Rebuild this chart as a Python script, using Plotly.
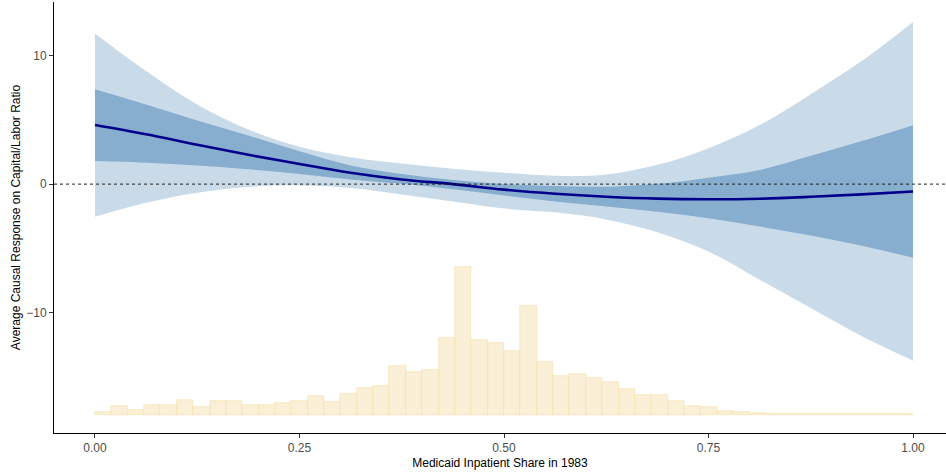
import plotly.graph_objects as go

# ---- data ----
x_grid = [0.0, 0.0625, 0.125, 0.1875, 0.25, 0.3125, 0.375, 0.4375, 0.5,
          0.5625, 0.625, 0.6875, 0.75, 0.8125, 0.875, 0.9375, 1.0]
effect = [4.6, 3.88, 3.06, 2.28, 1.57, 0.88, 0.36, 0.0, -0.43,
          -0.75, -0.98, -1.13, -1.18, -1.14, -0.99, -0.80, -0.57]
inner_upper = [7.39, 6.2, 4.95, 3.78, 2.55, 1.45, 0.78, 0.32, 0.0,
               -0.15, -0.2, 0.02, 0.5, 1.1, 2.2, 3.35, 4.59]
inner_lower = [1.79, 1.67, 1.44, 1.15, 0.78, 0.36, 0.02, -0.4, -0.88,
               -1.35, -1.75, -2.15, -2.65, -3.3, -4.0, -4.8, -5.73]
outer_upper = [11.73, 8.8, 6.2, 4.25, 2.9, 2.1, 1.6, 1.2, 0.88,
               0.65, 0.75, 1.5, 2.8, 4.6, 7.0, 9.6, 12.63]
outer_lower = [-2.54, -1.45, -0.67, -0.22, -0.1, -0.3, -0.8, -1.35, -1.9,
               -2.2, -2.75, -3.75, -5.25, -7.45, -9.65, -11.85, -13.75]

# histogram of the treatment (bins of width 0.02 from 0 to 1), heights in response units
bin_width = 0.02
hist_base = -17.95
hist_heights = [0.19, 0.68, 0.37, 0.75, 0.75, 1.14, 0.60, 1.07, 1.07, 0.75,
                0.75, 0.91, 1.07, 1.46, 0.99, 1.61, 2.08, 2.23, 3.79, 3.32,
                3.48, 5.97, 11.49, 5.81, 5.58, 4.96, 8.46, 4.10, 3.01, 3.17,
                2.86, 2.54, 2.00, 1.53, 1.53, 1.07, 0.68, 0.60, 0.29, 0.21,
                0.13, 0.06, 0.06, 0.06, 0.06, 0.06, 0.06, 0.06, 0.06, 0.06]

x_ticks = [0.0, 0.25, 0.5, 0.75, 1.0]
x_tick_labels = ["0.00", "0.25", "0.50", "0.75", "1.00"]
y_ticks = [-10, 0, 10]
y_tick_labels = ["\u221210", "0", "10"]

bin_centers = [bin_width * (i + 0.5) for i in range(len(hist_heights))]

OUTER = "#C9DBE9"
INNER = "#87ADCF"
LINE = "#00008B"

fig = go.Figure()

# outer band
fig.add_trace(go.Scatter(x=x_grid, y=outer_upper, mode="lines",
                         line=dict(width=0, shape="spline", smoothing=1),
                         hoverinfo="skip", showlegend=False))
fig.add_trace(go.Scatter(x=x_grid, y=outer_lower, mode="lines",
                         line=dict(width=0, shape="spline", smoothing=1),
                         fill="tonexty", fillcolor=OUTER, hoverinfo="skip", showlegend=False))
# inner band
fig.add_trace(go.Scatter(x=x_grid, y=inner_upper, mode="lines",
                         line=dict(width=0, shape="spline", smoothing=1),
                         hoverinfo="skip", showlegend=False))
fig.add_trace(go.Scatter(x=x_grid, y=inner_lower, mode="lines",
                         line=dict(width=0, shape="spline", smoothing=1),
                         fill="tonexty", fillcolor=INNER, hoverinfo="skip", showlegend=False))

# histogram
fig.add_trace(go.Bar(x=bin_centers, y=hist_heights, base=hist_base, width=bin_width,
                     marker=dict(color="#FAF0D8", line=dict(color="#F7DFA6", width=0.6)),
                     showlegend=False))

# zero reference line
fig.add_shape(type="line", xref="paper", x0=0, x1=1, yref="y", y0=0, y1=0,
              line=dict(color="#222222", width=1, dash="dot"), layer="above")

# effect curve
fig.add_trace(go.Scatter(x=x_grid, y=effect, mode="lines",
                         line=dict(color=LINE, width=2.6, shape="spline", smoothing=1),
                         showlegend=False))

font_family = "Liberation Sans, Arial, Helvetica, sans-serif"

fig.update_layout(
    width=946, height=474,
    margin=dict(l=54, r=0, t=2, b=41),
    paper_bgcolor="white", plot_bgcolor="white",
    font=dict(family=font_family, size=12, color="black"),
    bargap=0,
    xaxis=dict(range=[-0.0501, 1.0403], tickvals=x_ticks, ticktext=x_tick_labels,
               automargin=False,
               showgrid=False, zeroline=False, showline=True, linecolor="black", linewidth=1,
               ticks="outside", ticklen=4, tickcolor="#333333", tickwidth=1,
               tickfont=dict(size=12, color="#4D4D4D", family=font_family),
               title=dict(text="Medicaid Inpatient Share in 1983", standoff=4,
                          font=dict(size=12, color="black", family=font_family))),
    yaxis=dict(range=[-19.38, 14.18], tickvals=y_ticks, ticktext=y_tick_labels,
               automargin=False,
               showgrid=False, zeroline=False, showline=True, linecolor="black", linewidth=1,
               ticks="outside", ticklen=4, tickcolor="#333333", tickwidth=1,
               tickfont=dict(size=12, color="#4D4D4D", family=font_family),
               title=dict(text="Average Causal Response on Capital/Labor Ratio", standoff=3,
                          font=dict(size=12, color="black", family=font_family))),
)

fig.write_html("out.html", config={"displayModeBar": False},
               post_script="document.body.style.margin='0';document.body.style.overflow='hidden';")
